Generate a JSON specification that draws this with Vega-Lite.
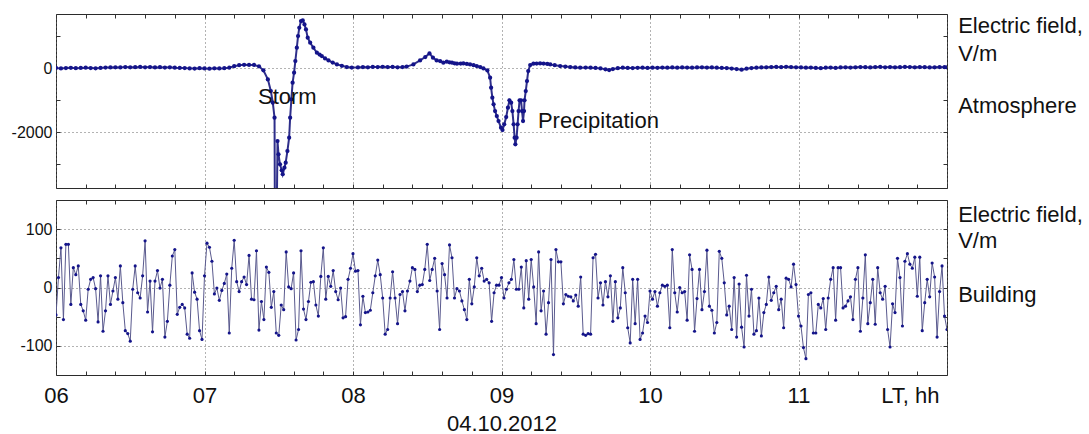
{
  "$schema": "https://vega.github.io/schema/vega-lite/v6.json",
  "padding": {"left": 10, "top": 13, "right": 0, "bottom": 0},
  "background": "white",
  "config": {
    "view": {"stroke": "#2b2b2b", "strokeWidth": 1},
    "font": "Liberation Sans",
    "concat": {"spacing": 10},
    "axis": {"domain": false, "tickColor": "#333333", "tickSize": -4, "labelFont": "Liberation Sans", "labelColor": "#111111", "gridColor": "#666666", "gridDash": [1, 3], "labelOverlap": false, "labelFlush": false, "labelBound": false, "titleFont": "Liberation Sans", "titleColor": "#111111"},
    "text": {"font": "Liberation Sans", "fontSize": 22, "color": "#111111", "align": "left", "baseline": "alphabetic"}
  },
  "datasets": {
    "atmosphere": [
      {"minute":360,"E":5},{"minute":362,"E":-10},{"minute":364,"E":0},{"minute":366,"E":8},{"minute":368,"E":-5},{"minute":370,"E":3},{"minute":372,"E":10},{"minute":374,"E":0},{"minute":376,"E":-8},{"minute":378,"E":5},
      {"minute":380,"E":15},{"minute":382,"E":20},{"minute":384,"E":25},{"minute":386,"E":18},{"minute":388,"E":30},{"minute":390,"E":22},{"minute":392,"E":28},{"minute":394,"E":35},{"minute":396,"E":25},{"minute":398,"E":30},
      {"minute":400,"E":20},{"minute":402,"E":28},{"minute":404,"E":15},{"minute":406,"E":22},{"minute":408,"E":10},{"minute":410,"E":5},{"minute":412,"E":0},{"minute":414,"E":-10},{"minute":416,"E":-15},{"minute":418,"E":-5},
      {"minute":420,"E":-12},{"minute":422,"E":-20},{"minute":424,"E":-8},{"minute":426,"E":-12},{"minute":428,"E":-5},{"minute":430,"E":10},{"minute":432,"E":60},{"minute":434,"E":90},{"minute":436,"E":100},{"minute":438,"E":96},
      {"minute":440,"E":98},{"minute":442,"E":55},{"minute":443.8,"E":-72},{"minute":445.6,"E":-354},{"minute":446.8,"E":-719},{"minute":447.6,"E":-1083},{"minute":448.3,"E":-1552},{"minute":448.5,"E":-6000},{"minute":449.0,"E":-6000},{"minute":449.5,"E":-2281},
      {"minute":449.9,"E":-2698},{"minute":450.5,"E":-3010},{"minute":451.2,"E":-3198},{"minute":451.6,"E":-3320},{"minute":452.3,"E":-3115},{"minute":452.8,"E":-2958},{"minute":453.5,"E":-2594},{"minute":454.2,"E":-2177},{"minute":454.6,"E":-1552},{"minute":455.1,"E":-979},
      {"minute":455.6,"E":-458},{"minute":456.2,"E":-146},{"minute":456.7,"E":219},{"minute":457.3,"E":635},{"minute":457.8,"E":1000},{"minute":458.3,"E":1260},{"minute":459.0,"E":1469},{"minute":459.7,"E":1490},{"minute":460.4,"E":1365},{"minute":461.0,"E":1208},
      {"minute":461.7,"E":948},{"minute":462.7,"E":792},{"minute":464.0,"E":635},{"minute":465.4,"E":479},{"minute":466.5,"E":420},{"minute":467.4,"E":375},{"minute":468.7,"E":300},{"minute":470.1,"E":240},{"minute":471.8,"E":170},{"minute":473.5,"E":115},
      {"minute":475.5,"E":70},{"minute":477.5,"E":31},{"minute":479.5,"E":15},{"minute":482,"E":20},{"minute":484,"E":30},{"minute":486,"E":25},{"minute":488,"E":35},{"minute":490,"E":30},{"minute":492,"E":40},{"minute":494,"E":30},
      {"minute":496,"E":35},{"minute":498,"E":25},{"minute":500,"E":30},{"minute":501.7,"E":45},{"minute":504.4,"E":115},{"minute":507.1,"E":240},{"minute":509.2,"E":344},{"minute":510.9,"E":458},{"minute":512.3,"E":323},{"minute":513.8,"E":240},
      {"minute":515.2,"E":219},{"minute":516.5,"E":167},{"minute":517.9,"E":198},{"minute":519,"E":180},{"minute":520,"E":167},{"minute":521,"E":150},{"minute":522,"E":135},{"minute":523.5,"E":140},{"minute":524.6,"E":146},{"minute":526,"E":130},
      {"minute":527.3,"E":115},{"minute":528.7,"E":90},{"minute":530,"E":63},{"minute":531.4,"E":30},{"minute":532.7,"E":-10},{"minute":534.3,"E":-73},{"minute":535.4,"E":-302},{"minute":535.8,"E":-615},{"minute":536.3,"E":-927},{"minute":536.8,"E":-1135},
      {"minute":537.4,"E":-1344},{"minute":538.1,"E":-1500},{"minute":538.8,"E":-1656},{"minute":539.8,"E":-1865},{"minute":540.4,"E":-1937},{"minute":541.1,"E":-1760},{"minute":541.9,"E":-1531},{"minute":542.6,"E":-1240},{"minute":543.2,"E":-1010},{"minute":543.9,"E":-1083},
      {"minute":544.4,"E":-1344},{"minute":544.9,"E":-1760},{"minute":545.3,"E":-2177},{"minute":545.6,"E":-2385},{"minute":546.1,"E":-2177},{"minute":546.5,"E":-1760},{"minute":546.9,"E":-1344},{"minute":547.3,"E":-1010},{"minute":547.9,"E":-1010},{"minute":548.3,"E":-1344},
      {"minute":548.7,"E":-1656},{"minute":549.1,"E":-1344},{"minute":549.3,"E":-1010},{"minute":549.8,"E":-719},{"minute":550.3,"E":-406},{"minute":550.8,"E":-94},{"minute":551.6,"E":94},{"minute":552.9,"E":135},{"minute":554.2,"E":140},{"minute":555.6,"E":146},
      {"minute":557,"E":140},{"minute":558.5,"E":130},{"minute":559.7,"E":115},{"minute":561.5,"E":90},{"minute":563.7,"E":63},{"minute":565.8,"E":45},{"minute":567.8,"E":31},{"minute":569.8,"E":20},{"minute":571.8,"E":10},{"minute":574,"E":15},
      {"minute":576,"E":10},{"minute":578,"E":5},{"minute":580,"E":-10},{"minute":582,"E":-40},{"minute":583.5,"E":-62},{"minute":585,"E":-30},{"minute":587,"E":-5},{"minute":589,"E":10},{"minute":591,"E":5},{"minute":593,"E":0},
      {"minute":595,"E":8},{"minute":597,"E":10},{"minute":599,"E":5},{"minute":601,"E":12},{"minute":603,"E":8},{"minute":605,"E":15},{"minute":607,"E":10},{"minute":609,"E":18},{"minute":611,"E":12},{"minute":613,"E":20},
      {"minute":615,"E":15},{"minute":617,"E":10},{"minute":619,"E":18},{"minute":621,"E":22},{"minute":623,"E":15},{"minute":625,"E":20},{"minute":627,"E":10},{"minute":629,"E":5},{"minute":631,"E":0},{"minute":633,"E":-15},
      {"minute":635,"E":-30},{"minute":637,"E":-50},{"minute":639,"E":-20},{"minute":641,"E":0},{"minute":643,"E":10},{"minute":645,"E":20},{"minute":647,"E":25},{"minute":649,"E":30},{"minute":651,"E":35},{"minute":653,"E":28},
      {"minute":655,"E":40},{"minute":657,"E":30},{"minute":659,"E":25},{"minute":661,"E":20},{"minute":663,"E":10},{"minute":665,"E":15},{"minute":667,"E":5},{"minute":669,"E":-5},{"minute":671,"E":10},{"minute":673,"E":15},
      {"minute":675,"E":5},{"minute":677,"E":20},{"minute":679,"E":25},{"minute":681,"E":15},{"minute":683,"E":22},{"minute":685,"E":30},{"minute":687,"E":28},{"minute":689,"E":20},{"minute":691,"E":30},{"minute":693,"E":35},
      {"minute":695,"E":25},{"minute":697,"E":30},{"minute":699,"E":22},{"minute":701,"E":28},{"minute":703,"E":35},{"minute":705,"E":30},{"minute":707,"E":25},{"minute":709,"E":32},{"minute":711,"E":28},{"minute":713,"E":20},
      {"minute":715,"E":25},{"minute":717,"E":30},{"minute":719,"E":28},{"minute":720,"E":25}
    ],
    "building": [
      {"minute":360,"E":-47},{"minute":361,"E":17},{"minute":362,"E":68},{"minute":363,"E":-55},{"minute":364,"E":74},{"minute":365,"E":74},{"minute":366,"E":-29},{"minute":367,"E":34},{"minute":368,"E":22},{"minute":369,"E":37},
      {"minute":370,"E":-29},{"minute":371,"E":-40},{"minute":372,"E":-56},{"minute":373,"E":-3},{"minute":374,"E":14},{"minute":375,"E":17},{"minute":376,"E":-2},{"minute":377,"E":-59},{"minute":378,"E":20},{"minute":379,"E":-75},
      {"minute":380,"E":-40},{"minute":381,"E":20},{"minute":382,"E":-29},{"minute":383,"E":-6},{"minute":384,"E":17},{"minute":385,"E":-20},{"minute":386,"E":37},{"minute":387,"E":-26},{"minute":388,"E":-74},{"minute":389,"E":-79},
      {"minute":390,"E":-92},{"minute":391,"E":-3},{"minute":392,"E":37},{"minute":393,"E":-9},{"minute":394,"E":-18},{"minute":395,"E":20},{"minute":396,"E":80},{"minute":397,"E":-42},{"minute":398,"E":11},{"minute":399,"E":-76},
      {"minute":400,"E":11},{"minute":401,"E":29},{"minute":402,"E":-1},{"minute":403,"E":14},{"minute":404,"E":-85},{"minute":405,"E":-58},{"minute":406,"E":4},{"minute":407,"E":54},{"minute":408,"E":65},{"minute":409,"E":-46},
      {"minute":410,"E":-34},{"minute":411,"E":-29},{"minute":412,"E":-35},{"minute":413,"E":-80},{"minute":414,"E":-87},{"minute":415,"E":25},{"minute":416,"E":-8},{"minute":417,"E":-20},{"minute":418,"E":-74},{"minute":419,"E":-89},
      {"minute":420,"E":20},{"minute":421,"E":76},{"minute":422,"E":69},{"minute":423,"E":45},{"minute":424,"E":-11},{"minute":425,"E":-1},{"minute":426,"E":-22},{"minute":427,"E":-5},{"minute":428,"E":7},{"minute":429,"E":23},
      {"minute":430,"E":-78},{"minute":431,"E":33},{"minute":432,"E":81},{"minute":433,"E":10},{"minute":434,"E":-7},{"minute":435,"E":10},{"minute":436,"E":18},{"minute":437,"E":5},{"minute":438,"E":55},{"minute":439,"E":-20},
      {"minute":440,"E":-21},{"minute":441,"E":63},{"minute":442,"E":-73},{"minute":443,"E":-24},{"minute":444,"E":-55},{"minute":445,"E":35},{"minute":446,"E":26},{"minute":447,"E":-34},{"minute":448,"E":-7},{"minute":449,"E":-78},
      {"minute":450,"E":-82},{"minute":451,"E":-30},{"minute":452,"E":-38},{"minute":453,"E":61},{"minute":454,"E":1},{"minute":455,"E":-2},{"minute":456,"E":25},{"minute":457,"E":-90},{"minute":458,"E":-72},{"minute":459,"E":63},
      {"minute":460,"E":-37},{"minute":461,"E":-55},{"minute":462,"E":-24},{"minute":463,"E":9},{"minute":464,"E":10},{"minute":465,"E":-30},{"minute":466,"E":-49},{"minute":467,"E":19},{"minute":468,"E":68},{"minute":469,"E":-20},
      {"minute":470,"E":19},{"minute":471,"E":2},{"minute":472,"E":29},{"minute":473,"E":-7},{"minute":474,"E":-21},{"minute":475,"E":-1},{"minute":476,"E":-52},{"minute":477,"E":-50},{"minute":478,"E":14},{"minute":479,"E":33},
      {"minute":480,"E":58},{"minute":481,"E":28},{"minute":482,"E":29},{"minute":483,"E":-64},{"minute":484,"E":-15},{"minute":485,"E":-43},{"minute":486,"E":-42},{"minute":487,"E":-39},{"minute":488,"E":-9},{"minute":489,"E":20},
      {"minute":490,"E":47},{"minute":491,"E":22},{"minute":492,"E":-18},{"minute":493,"E":-80},{"minute":494,"E":-72},{"minute":495,"E":-18},{"minute":496,"E":27},{"minute":497,"E":-18},{"minute":498,"E":-62},{"minute":499,"E":-12},
      {"minute":500,"E":-7},{"minute":501,"E":-40},{"minute":502,"E":-6},{"minute":503,"E":11},{"minute":504,"E":34},{"minute":505,"E":31},{"minute":506,"E":-7},{"minute":507,"E":4},{"minute":508,"E":5},{"minute":509,"E":31},
      {"minute":510,"E":74},{"minute":511,"E":12},{"minute":512,"E":31},{"minute":513,"E":50},{"minute":514,"E":-6},{"minute":515,"E":-72},{"minute":516,"E":41},{"minute":517,"E":22},{"minute":518,"E":-18},{"minute":519,"E":73},
      {"minute":520,"E":51},{"minute":521,"E":-18},{"minute":522,"E":-2},{"minute":523,"E":-6},{"minute":524,"E":-23},{"minute":525,"E":-38},{"minute":526,"E":-55},{"minute":527,"E":14},{"minute":528,"E":-28},{"minute":529,"E":1},
      {"minute":530,"E":51},{"minute":531,"E":20},{"minute":532,"E":33},{"minute":533,"E":11},{"minute":534,"E":14},{"minute":535,"E":8},{"minute":536,"E":-58},{"minute":537,"E":-9},{"minute":538,"E":4},{"minute":539,"E":4},
      {"minute":540,"E":17},{"minute":541,"E":-18},{"minute":542,"E":-3},{"minute":543,"E":8},{"minute":544,"E":14},{"minute":545,"E":48},{"minute":546,"E":-3},{"minute":547,"E":-3},{"minute":548,"E":35},{"minute":549,"E":-35},
      {"minute":550,"E":46},{"minute":551,"E":-20},{"minute":552,"E":48},{"minute":553,"E":1},{"minute":554,"E":-62},{"minute":555,"E":61},{"minute":556,"E":-40},{"minute":557,"E":-6},{"minute":558,"E":-80},{"minute":559,"E":-26},
      {"minute":560,"E":48},{"minute":561,"E":-115},{"minute":562,"E":65},{"minute":563,"E":44},{"minute":564,"E":44},{"minute":565,"E":-28},{"minute":566,"E":-12},{"minute":567,"E":-15},{"minute":568,"E":-16},{"minute":569,"E":-23},
      {"minute":570,"E":-13},{"minute":571,"E":-32},{"minute":572,"E":18},{"minute":573,"E":-80},{"minute":574,"E":-82},{"minute":575,"E":-79},{"minute":576,"E":-80},{"minute":577,"E":51},{"minute":578,"E":57},{"minute":579,"E":-18},
      {"minute":580,"E":8},{"minute":581,"E":-30},{"minute":582,"E":10},{"minute":583,"E":-16},{"minute":584,"E":20},{"minute":585,"E":-58},{"minute":586,"E":10},{"minute":587,"E":-52},{"minute":588,"E":-35},{"minute":589,"E":34},
      {"minute":590,"E":-9},{"minute":591,"E":-69},{"minute":592,"E":-95},{"minute":593,"E":14},{"minute":594,"E":-62},{"minute":595,"E":14},{"minute":596,"E":-89},{"minute":597,"E":-78},{"minute":598,"E":-49},{"minute":599,"E":-60},
      {"minute":600,"E":-6},{"minute":601,"E":-20},{"minute":602,"E":-7},{"minute":603,"E":-32},{"minute":604,"E":-9},{"minute":605,"E":4},{"minute":606,"E":2},{"minute":607,"E":4},{"minute":608,"E":-69},{"minute":609,"E":65},
      {"minute":610,"E":-9},{"minute":611,"E":-42},{"minute":612,"E":0},{"minute":613,"E":-9},{"minute":614,"E":-7},{"minute":615,"E":-56},{"minute":616,"E":56},{"minute":617,"E":31},{"minute":618,"E":-75},{"minute":619,"E":-19},
      {"minute":620,"E":31},{"minute":621,"E":-38},{"minute":622,"E":-7},{"minute":623,"E":64},{"minute":624,"E":-32},{"minute":625,"E":-39},{"minute":626,"E":-78},{"minute":627,"E":-60},{"minute":628,"E":62},{"minute":629,"E":50},
      {"minute":630,"E":8},{"minute":631,"E":-47},{"minute":632,"E":-32},{"minute":633,"E":-72},{"minute":634,"E":17},{"minute":635,"E":-85},{"minute":636,"E":6},{"minute":637,"E":-68},{"minute":638,"E":-102},{"minute":639,"E":21},
      {"minute":640,"E":-49},{"minute":641,"E":-3},{"minute":642,"E":-80},{"minute":643,"E":-74},{"minute":644,"E":-18},{"minute":645,"E":-83},{"minute":646,"E":-43},{"minute":647,"E":-29},{"minute":648,"E":18},{"minute":649,"E":-22},
      {"minute":650,"E":-9},{"minute":651,"E":2},{"minute":652,"E":-38},{"minute":653,"E":-20},{"minute":654,"E":-69},{"minute":655,"E":16},{"minute":656,"E":14},{"minute":657,"E":1},{"minute":658,"E":40},{"minute":659,"E":5},
      {"minute":660,"E":-49},{"minute":661,"E":-66},{"minute":662,"E":-103},{"minute":663,"E":-122},{"minute":664,"E":-12},{"minute":665,"E":-9},{"minute":666,"E":-78},{"minute":667,"E":-78},{"minute":668,"E":-29},{"minute":669,"E":-35},
      {"minute":670,"E":-19},{"minute":671,"E":-72},{"minute":672,"E":-18},{"minute":673,"E":14},{"minute":674,"E":34},{"minute":675,"E":-56},{"minute":676,"E":34},{"minute":677,"E":34},{"minute":678,"E":-35},{"minute":679,"E":-32},
      {"minute":680,"E":-23},{"minute":681,"E":-16},{"minute":682,"E":-55},{"minute":683,"E":14},{"minute":684,"E":34},{"minute":685,"E":-75},{"minute":686,"E":-18},{"minute":687,"E":56},{"minute":688,"E":-62},{"minute":689,"E":-26},
      {"minute":690,"E":14},{"minute":691,"E":-63},{"minute":692,"E":34},{"minute":693,"E":-9},{"minute":694,"E":-20},{"minute":695,"E":2},{"minute":696,"E":-72},{"minute":697,"E":-102},{"minute":698,"E":-28},{"minute":699,"E":-43},
      {"minute":700,"E":50},{"minute":701,"E":17},{"minute":702,"E":-66},{"minute":703,"E":45},{"minute":704,"E":58},{"minute":705,"E":40},{"minute":706,"E":33},{"minute":707,"E":52},{"minute":708,"E":-15},{"minute":709,"E":52},
      {"minute":710,"E":-74},{"minute":711,"E":-26},{"minute":712,"E":14},{"minute":713,"E":-16},{"minute":714,"E":42},{"minute":715,"E":18},{"minute":716,"E":-85},{"minute":717,"E":-7},{"minute":718,"E":37},{"minute":719,"E":-49},
      {"minute":720,"E":-72}
    ],
    "labelsTop": [
      {"minute":441.6,"E":-1134,"label":"Storm"},
      {"minute":554.7,"E":-1884,"label":"Precipitation"},
      {"minute":724.5,"E":1084,"label":"Electric field,"},
      {"minute":724.5,"E":219,"label":"V/m"},
      {"minute":724.5,"E":-1397,"label":"Atmosphere"}
    ],
    "labelsBottom": [
      {"minute":724.5,"E":113,"label":"Electric field,"},
      {"minute":724.5,"E":67.6,"label":"V/m"},
      {"minute":724.5,"E":-24,"label":"Building"}
    ]
  },
  "vconcat": [
    {
      "width": 891,
      "height": 174,
      "layer": [
        {
          "data": {"name": "atmosphere"},
          "mark": {"type": "line", "clip": true, "color": "#2e2e8a", "strokeWidth": 2},
          "encoding": {
            "x": {"field": "minute", "type": "quantitative", "scale": {"domain": [360, 720], "nice": false, "zero": false},
                  "axis": {"orient": "bottom", "title": null, "labels": false, "values": [360,372,384,396,408,420,432,444,456,468,480,492,504,516,528,540,552,564,576,588,600,612,624,636,648,660,672,684,696,708,720],
                           "grid": true, "gridOpacity": {"condition": {"test": "datum.value % 60 == 0", "value": 1}, "value": 0}}},
            "y": {"field": "E", "type": "quantitative", "scale": {"domain": [-3750, 1690], "nice": false, "zero": false},
                  "axis": {"orient": "left", "title": null, "values": [-3000, -2000, -1000, 0, 1000], "labelExpr": "datum.value % 2000 == 0 ? '' + datum.value : ''",
                           "labelFontSize": 16, "labelPadding": 8, "grid": true, "gridOpacity": {"condition": {"test": "datum.value % 2000 == 0", "value": 1}, "value": 0}}}
          }
        },
        {
          "data": {"name": "atmosphere"},
          "mark": {"type": "point", "filled": true, "clip": true, "size": 18, "color": "#14148a", "opacity": 1},
          "encoding": {
            "x": {"field": "minute", "type": "quantitative", "axis": {"orient": "top", "title": null, "labels": false, "grid": false, "values": [360,372,384,396,408,420,432,444,456,468,480,492,504,516,528,540,552,564,576,588,600,612,624,636,648,660,672,684,696,708,720]}},
            "y": {"field": "E", "type": "quantitative", "axis": {"orient": "right", "title": null, "labels": false, "grid": false, "values": [-3000, -2000, -1000, 0, 1000]}}
          }
        },
        {
          "data": {"name": "labelsTop"},
          "mark": {"type": "text"},
          "encoding": {
            "x": {"field": "minute", "type": "quantitative", "axis": null},
            "y": {"field": "E", "type": "quantitative", "axis": null},
            "text": {"field": "label"}
          }
        }
      ],
      "resolve": {"axis": {"x": "independent", "y": "independent"}}
    },
    {
      "width": 891,
      "height": 175,
      "layer": [
        {
          "data": {"name": "building"},
          "mark": {"type": "line", "clip": true, "color": "#5a5a8e", "strokeWidth": 1},
          "encoding": {
            "x": {"field": "minute", "type": "quantitative", "scale": {"domain": [360, 720], "nice": false, "zero": false},
                  "axis": {"orient": "bottom", "title": "04.10.2012", "titleFontSize": 22, "titleFontWeight": "normal", "titleBaseline": "alphabetic", "titleY": 55,
                           "values": [360,372,384,396,408,420,432,444,456,468,480,492,504,516,528,540,552,564,576,588,600,612,624,636,648,660,672,684,696,708,720],
                           "labelExpr": "datum.value == 720 ? 'LT, hh' : (datum.value % 60 == 0 ? format(datum.value / 60, '02d') : '')",
                           "labelFontSize": 22, "labelPadding": 14,
                           "labelAlign": {"condition": {"test": "datum.value == 720", "value": "right"}, "value": "center"},
                           "labelOffset": {"condition": {"test": "datum.value == 720", "value": -8}, "value": 0},
                           "grid": true, "gridOpacity": {"condition": {"test": "datum.value % 60 == 0", "value": 1}, "value": 0}}},
            "y": {"field": "E", "type": "quantitative", "scale": {"domain": [-150, 150], "nice": false, "zero": false},
                  "axis": {"orient": "left", "title": null, "values": [-100, -50, 0, 50, 100], "labelExpr": "datum.value % 100 == 0 ? '' + datum.value : ''",
                           "labelFontSize": 16, "labelPadding": 8, "grid": true, "gridOpacity": {"condition": {"test": "datum.value % 100 == 0", "value": 1}, "value": 0}}}
          }
        },
        {
          "data": {"name": "building"},
          "mark": {"type": "point", "filled": true, "clip": true, "size": 10, "color": "#14148a", "opacity": 1},
          "encoding": {
            "x": {"field": "minute", "type": "quantitative", "axis": {"orient": "top", "title": null, "labels": false, "grid": false, "values": [360,372,384,396,408,420,432,444,456,468,480,492,504,516,528,540,552,564,576,588,600,612,624,636,648,660,672,684,696,708,720]}},
            "y": {"field": "E", "type": "quantitative", "axis": {"orient": "right", "title": null, "labels": false, "grid": false, "values": [-100, -50, 0, 50, 100]}}
          }
        },
        {
          "data": {"name": "labelsBottom"},
          "mark": {"type": "text"},
          "encoding": {
            "x": {"field": "minute", "type": "quantitative", "axis": null},
            "y": {"field": "E", "type": "quantitative", "axis": null},
            "text": {"field": "label"}
          }
        }
      ],
      "resolve": {"axis": {"x": "independent", "y": "independent"}}
    }
  ]
}
